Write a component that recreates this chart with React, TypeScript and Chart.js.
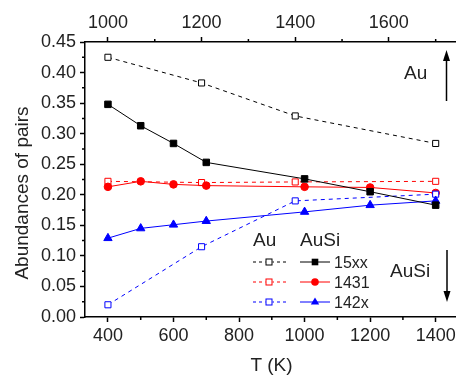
import React, { useEffect, useRef } from 'react';
import { Chart, registerables } from 'chart.js';
Chart.register(...registerables);

// Au clusters: temperatures on top axis
const auTemps = [1000, 1200, 1400, 1700];
const au15xx = [0.425, 0.383, 0.329, 0.284];
const au1431 = [0.222, 0.220, 0.221, 0.222];
const au142x = [0.020, 0.115, 0.190, 0.201];
// AuSi clusters: temperatures on bottom axis
const ausiTemps = [400, 500, 600, 700, 1000, 1200, 1400];
const ausi15xx = [0.348, 0.313, 0.284, 0.253, 0.226, 0.205, 0.183];
const ausi1431 = [0.213, 0.222, 0.217, 0.215, 0.213, 0.212, 0.203];
const ausi142x = [0.129, 0.145, 0.151, 0.157, 0.172, 0.183, 0.190];

const bottomTicks = [400, 600, 800, 1000, 1200, 1400];
const bottomMinor = [500, 700, 900, 1100, 1300];
const topTicks = [1000, 1200, 1400, 1600];
const topMinor = [1100, 1300, 1500, 1700];
const yTicks = [0, 0.05, 0.1, 0.15, 0.2, 0.25, 0.3, 0.35, 0.4, 0.45];
const yMinor = [0.025, 0.075, 0.125, 0.175, 0.225, 0.275, 0.325, 0.375, 0.425];

const legendNames = ['15xx', '1431', '142x'];
const legendColors = ['#000000', '#ff0000', '#0000ff'];
const legendShapes = ['rect', 'circle', 'triangle'];

const FONT = '"Liberation Sans", Arial, sans-serif';
const TXT = '#222222';

function pts(xs: number[], ys: number[]) {
  return xs.map((x, i) => ({ x, y: ys[i] }));
}

export default function App() {
  const ref = useRef<HTMLCanvasElement | null>(null);
  useEffect(() => {
    if (!ref.current) return;
    const auDs = (data: number[], color: string) => ({
      data: pts(auTemps, data),
      xAxisID: 'x2',
      yAxisID: 'y',
      borderColor: color,
      borderWidth: 1,
      borderDash: [4, 4],
      pointStyle: 'rect',
      pointRadius: 4.3,
      pointBorderWidth: 1,
      pointBorderColor: color,
      pointBackgroundColor: '#ffffff',
      showLine: true,
      fill: false,
    });
    const ausiDs = (data: number[], color: string, shape: string, r: number) => ({
      data: pts(ausiTemps, data),
      xAxisID: 'x',
      yAxisID: 'y',
      borderColor: color,
      borderWidth: 1,
      pointStyle: shape,
      pointRadius: r,
      pointBorderWidth: 1,
      pointBorderColor: color,
      pointBackgroundColor: color,
      showLine: true,
      fill: false,
    });

    const deco = {
      id: 'deco',
      afterDraw(chart: any) {
        const ctx = chart.ctx as CanvasRenderingContext2D;
        const xs = chart.scales.x;
        const x2 = chart.scales.x2;
        const ys = chart.scales.y;
        const area = chart.chartArea;
        ctx.save();
        // minor ticks
        ctx.strokeStyle = '#000';
        ctx.lineWidth = 1.5;
        ctx.beginPath();
        bottomMinor.forEach((v) => {
          const p = xs.getPixelForValue(v);
          ctx.moveTo(p, area.bottom);
          ctx.lineTo(p, area.bottom + 3);
        });
        topMinor.forEach((v) => {
          const p = x2.getPixelForValue(v);
          ctx.moveTo(p, area.top);
          ctx.lineTo(p, area.top - 3);
        });
        yMinor.forEach((v) => {
          const p = ys.getPixelForValue(v);
          ctx.moveTo(area.left, p);
          ctx.lineTo(area.left - 3, p);
        });
        ctx.stroke();

        // titles
        ctx.fillStyle = TXT;
        ctx.font = `19px ${FONT}`;
        ctx.textAlign = 'center';
        ctx.textBaseline = 'alphabetic';
        ctx.fillText('T (K)', (area.left + area.right) / 2 + 1, 371);
        ctx.save();
        ctx.translate(28, 193);
        ctx.rotate(-Math.PI / 2);
        ctx.fillText('Abundances of pairs', 0, 0);
        ctx.restore();

        // annotations
        ctx.textAlign = 'left';
        ctx.fillText('Au', 404, 79);
        ctx.fillText('AuSi', 390, 277);
        // arrows
        const arrow = (x: number, y0: number, y1: number) => {
          const dir = y1 < y0 ? -1 : 1;
          ctx.strokeStyle = '#000';
          ctx.fillStyle = '#000';
          ctx.lineWidth = 1.5;
          ctx.beginPath();
          ctx.moveTo(x, y0);
          ctx.lineTo(x, y1 - dir * 8);
          ctx.stroke();
          ctx.beginPath();
          ctx.moveTo(x, y1);
          ctx.lineTo(x - 3.5, y1 - dir * 11);
          ctx.lineTo(x + 3.5, y1 - dir * 11);
          ctx.closePath();
          ctx.fill();
        };
        arrow(446.5, 101, 50);
        arrow(447, 250, 302);

        // legend
        ctx.fillStyle = TXT;
        ctx.font = `19px ${FONT}`;
        ctx.fillText('Au', 253, 246);
        ctx.fillText('AuSi', 300, 246);
        const rows = [262, 282, 302];
        rows.forEach((ry, i) => {
          const c = legendColors[i];
          ctx.strokeStyle = c;
          ctx.lineWidth = 1;
          ctx.setLineDash([3, 3]);
          ctx.beginPath();
          ctx.moveTo(253, ry);
          ctx.lineTo(286, ry);
          ctx.stroke();
          ctx.setLineDash([]);
          ctx.fillStyle = '#fff';
          ctx.fillRect(265.5, ry - 3.5, 7, 7);
          ctx.strokeRect(266, ry - 3, 6, 6);
          ctx.beginPath();
          ctx.moveTo(300, ry);
          ctx.lineTo(330, ry);
          ctx.stroke();
          ctx.fillStyle = c;
          const mx = 315;
          const sh = legendShapes[i];
          if (sh === 'rect') {
            ctx.fillRect(mx - 3.3, ry - 3.3, 6.6, 6.6);
          } else if (sh === 'circle') {
            ctx.beginPath();
            ctx.arc(mx, ry, 3.8, 0, Math.PI * 2);
            ctx.fill();
          } else {
            ctx.beginPath();
            ctx.moveTo(mx, ry - 4.6);
            ctx.lineTo(mx + 4.2, ry + 2.6);
            ctx.lineTo(mx - 4.2, ry + 2.6);
            ctx.closePath();
            ctx.fill();
          }
          ctx.fillStyle = TXT;
          ctx.font = `16px ${FONT}`;
          ctx.fillText(legendNames[i], 334, ry + 6);
        });
        ctx.restore();
      },
    };

    const tickFont = { family: FONT, size: 18 };
    const fitH = (h: number) => (s: any) => {
      s.height = h;
      s.paddingLeft = 0;
      s.paddingRight = 0;
    };
    const chart = new Chart(ref.current, {
      type: 'scatter',
      data: {
        datasets: [
          ausiDs(ausi15xx, '#000000', 'rect', 4.6),
          ausiDs(ausi142x, '#0000ff', 'triangle', 4.8),
          auDs(au142x, '#0000ff'),
          ausiDs(ausi1431, '#ff0000', 'circle', 3.8),
          auDs(au1431, '#ff0000'),
          auDs(au15xx, '#000000'),
        ] as any,
      },
      options: {
        animation: false,
        responsive: false,
        devicePixelRatio: 1,
        layout: { padding: 0, autoPadding: false },
        plugins: { legend: { display: false }, tooltip: { enabled: false } },
        scales: {
          x: {
            type: 'linear',
            position: 'bottom',
            min: 330,
            max: 1462,
            afterBuildTicks: (s: any) => {
              s.ticks = bottomTicks.map((v) => ({ value: v }));
            },
            afterFit: fitH(58),
            ticks: { font: tickFont, color: TXT, padding: 3, maxRotation: 0, callback: (v: any) => String(v) },
            grid: { display: true, drawOnChartArea: false, drawTicks: true, tickLength: 5, tickWidth: 1.5, tickColor: '#000' },
            border: { display: true, color: '#000', width: 1.5 },
          },
          x2: {
            type: 'linear',
            position: 'top',
            min: 951,
            max: 1743.4,
            afterBuildTicks: (s: any) => {
              s.ticks = topTicks.map((v) => ({ value: v }));
            },
            afterFit: fitH(42),
            ticks: { font: tickFont, color: TXT, padding: 3, maxRotation: 0, callback: (v: any) => String(v) },
            grid: { display: true, drawOnChartArea: false, drawTicks: true, tickLength: 5, tickWidth: 1.5, tickColor: '#000' },
            border: { display: true, color: '#000', width: 1.5 },
          },
          y: {
            type: 'linear',
            position: 'left',
            min: 0,
            max: 0.45,
            afterBuildTicks: (s: any) => {
              s.ticks = yTicks.map((v) => ({ value: v }));
            },
            afterFit: (s: any) => {
              s.width = 85;
              s.paddingTop = 0;
              s.paddingBottom = 0;
            },
            ticks: { font: tickFont, color: TXT, padding: 4, callback: (v: any) => Number(v).toFixed(2) },
            grid: { display: true, drawOnChartArea: false, drawTicks: true, tickLength: 5, tickWidth: 1.5, tickColor: '#000' },
            border: { display: true, color: '#000', width: 1.5 },
          },
        },
      } as any,
      plugins: [deco],
    });
    return () => chart.destroy();
  }, []);
  return (
    <div style={{ position: 'fixed', left: 0, top: 0, width: 456, height: 375, background: '#fff' }}>
      <canvas ref={ref} width={456} height={375} style={{ width: 456, height: 375, display: 'block' }} />
    </div>
  );
}
